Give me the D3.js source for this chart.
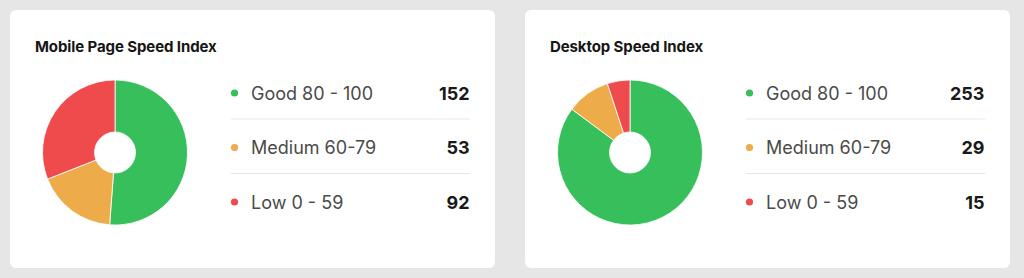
<!DOCTYPE html>
<meta charset="utf-8">
<script src="https://d3js.org/d3.v7.min.js"></script>
<style>
body { margin: 0; background: #e6e6e6; font-family: Inter, "Noto Sans", sans-serif; }
</style>
<body>
<div id="canvas"></div>
<script>

// categorias e valores
var categories = ["Good 80 - 100", "Medium 60-79", "Low 0 - 59"];
var colors = ["#37bf5b", "#eeab4a", "#ef4a4c"];
var titles = ["Mobile Page Speed Index", "Desktop Speed Index"];
var mobileValues = [152, 53, 92];
var desktopValues = [253, 29, 15];

var width = 1024, height = 278;

var svg = d3.select("#canvas")
    .append("svg")
    .attr("width", width)
    .attr("height", height);

var cards = [
    {title: titles[0], values: mobileValues, x: 10},
    {title: titles[1], values: desktopValues, x: 525}
];

var cardW = 485, cardH = 258;

var pie = d3.pie().sort(null).value(function(d) { return d; });
var arc = d3.arc().innerRadius(20.5).outerRadius(72.5);

// escala vertical das linhas da legenda
var rowY = d3.scalePoint()
    .domain(categories)
    .range([93, 202]);

cards.forEach(function(c) {
    var g = svg.append("g").attr("transform", "translate(" + c.x + ",10)");

    g.append("rect")
        .attr("width", cardW)
        .attr("height", cardH)
        .attr("rx", 6)
        .attr("fill", "#fff");

    g.append("text")
        .attr("x", 25)
        .attr("y", 42)
        .attr("font-size", "15px")
        .attr("font-weight", 700)
        .attr("letter-spacing", "-0.1px")
        .attr("fill", "#161616")
        .text(c.title);

    // rosca
    var donut = g.append("g").attr("transform", "translate(105,142.5)");
    donut.selectAll("path")
        .data(pie(c.values))
        .enter()
        .append("path")
        .attr("d", arc)
        .attr("fill", function(d, i) { return colors[i]; })
        .attr("stroke", "#fff")
        .attr("stroke-width", 0.8);

    // legenda
    var rows = g.selectAll(".row")
        .data(categories)
        .enter()
        .append("g")
        .attr("transform", function(d) { return "translate(0," + (rowY(d) - 10) + ")"; });

    rows.append("circle")
        .attr("cx", 224.5)
        .attr("cy", 0)
        .attr("r", 3.6)
        .attr("fill", function(d, i) { return colors[i]; });

    rows.append("text")
        .attr("x", 241)
        .attr("y", 6.5)
        .attr("font-size", "18px")
        .attr("fill", "#4a4a4a")
        .text(function(d) { return d; });

    rows.append("text")
        .attr("x", 459.5)
        .attr("y", 6.5)
        .attr("text-anchor", "end")
        .attr("font-size", "18px")
        .attr("font-weight", 700)
        .attr("fill", "#1a1a1a")
        .text(function(d, i) { return c.values[i]; });

    rows.filter(function(d, i) { return i < categories.length - 1; })
        .append("line")
        .attr("x1", 221)
        .attr("x2", 460)
        .attr("y1", 26)
        .attr("y2", 26)
        .attr("stroke", "#e6e6e6")
        .attr("stroke-width", 1);
});

</script>
</body>
